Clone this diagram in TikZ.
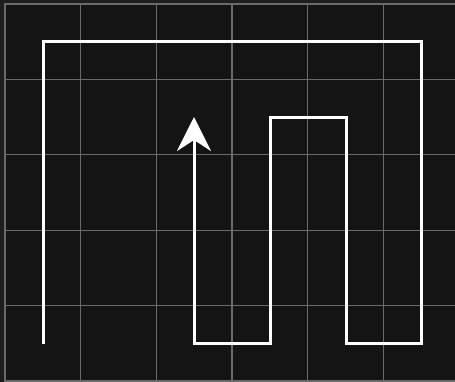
\documentclass[tikz,border=0pt]{standalone}
\usetikzlibrary{arrows.meta}
\definecolor{bgouter}{HTML}{1E1E1E}
\definecolor{bginner}{HTML}{141414}
\definecolor{gridc}{HTML}{6A6A6A}
\tikzset{
  gridline/.style={draw=gridc, line width=1.3pt},
  route/.style={draw=white, line width=3pt, line join=miter},
}
\begin{document}
\begin{tikzpicture}[x=1pt,y=-1pt]
\useasboundingbox (0,0) rectangle (455,382);
\fill[bgouter] (0,0) rectangle (455,382);
\fill[bginner] (4,3) rectangle (455,382);
\foreach \i in {0,...,5} {
  \draw[gridline] ({5+75.7*\i},3.5) -- ({5+75.7*\i},382);
  \draw[gridline] (4.5,{4+75.4*\i}) -- (455,{4+75.4*\i});
}
\coordinate (s) at (43,344);
\coordinate (a) at (43,42);
\coordinate (b) at (421,42);
\coordinate (c) at (421,343);
\coordinate (d) at (346,343);
\coordinate (e) at (346,118);
\coordinate (f) at (270,118);
\coordinate (g) at (270,343);
\coordinate (h) at (194,343);
\coordinate (t) at (194,117);
\draw[route, -{Stealth[length=34pt,width=34pt,inset=11pt]}]
  (s) -- (a) -- (b) -- (c) -- (d) -- (e) -- (f) -- (g) -- (h) -- (t);
\end{tikzpicture}
\end{document}
